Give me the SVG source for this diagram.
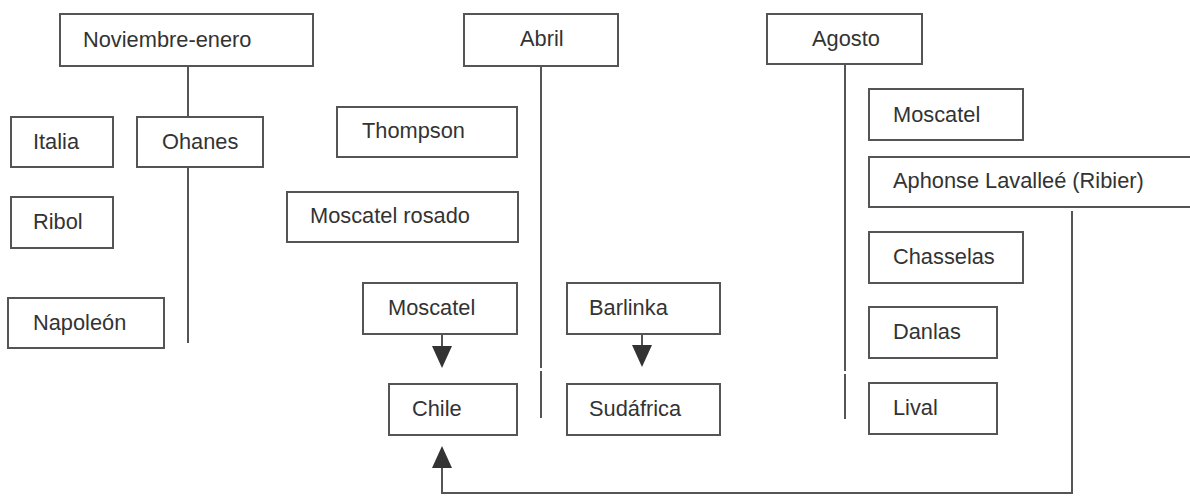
<svg xmlns="http://www.w3.org/2000/svg" width="1190" height="497" viewBox="0 0 1190 497">
<style>
.box{fill:#fff;stroke:#555;stroke-width:2}
.lbl{font-family:"Liberation Sans",Arial,sans-serif;font-size:21.8px;fill:#333}
.ln{fill:none;stroke:#555;stroke-width:2}
</style>
<defs>
<marker id="arr" viewBox="0 0 22 20" refX="0" refY="10" markerWidth="22" markerHeight="20" markerUnits="userSpaceOnUse" orient="auto">
<path d="M0,0 L22,10 L0,20 Z" fill="#333"/>
</marker>
</defs>
<rect width="1190" height="497" fill="#fff"/>
<g id="connectors">
<line class="ln" x1="188" y1="66" x2="188" y2="117"/>
<line class="ln" x1="188" y1="167" x2="188" y2="343"/>
<line class="ln" x1="541" y1="66" x2="541" y2="368"/>
<line class="ln" x1="541" y1="371" x2="541" y2="418"/>
<line class="ln" x1="845" y1="64" x2="845" y2="371"/>
<line class="ln" x1="845" y1="374" x2="845" y2="419"/>
<line class="ln" x1="442" y1="334" x2="442" y2="346" marker-end="url(#arr)"/>
<line class="ln" x1="642" y1="334" x2="642" y2="345" marker-end="url(#arr)"/>
<path class="ln" d="M1072,211 V493 H442 V468" marker-end="url(#arr)"/>
</g>
<g id="n-noviembre"><rect class="box" x="60" y="14" width="253" height="52"/><text class="lbl" x="83" y="47">Noviembre-enero</text></g>
<g id="n-italia"><rect class="box" x="11" y="117" width="102" height="50"/><text class="lbl" x="33" y="149">Italia</text></g>
<g id="n-ohanes"><rect class="box" x="137" y="117" width="126" height="50"/><text class="lbl" x="162" y="149">Ohanes</text></g>
<g id="n-ribol"><rect class="box" x="11" y="197" width="102" height="51"/><text class="lbl" x="33" y="229">Ribol</text></g>
<g id="n-napoleon"><rect class="box" x="8" y="298" width="156" height="50"/><text class="lbl" x="33" y="330">Napoleón</text></g>
<g id="n-abril"><rect class="box" x="464" y="14" width="154" height="52"/><text class="lbl" x="520" y="46">Abril</text></g>
<g id="n-thompson"><rect class="box" x="337" y="107" width="180" height="50"/><text class="lbl" x="362" y="138">Thompson</text></g>
<g id="n-moscatel-rosado"><rect class="box" x="287" y="192" width="231" height="50"/><text class="lbl" x="310" y="223">Moscatel rosado</text></g>
<g id="n-moscatel-mid"><rect class="box" x="363" y="283" width="154" height="51"/><text class="lbl" x="388" y="315">Moscatel</text></g>
<g id="n-chile"><rect class="box" x="389" y="384" width="128" height="51"/><text class="lbl" x="412" y="416">Chile</text></g>
<g id="n-barlinka"><rect class="box" x="567" y="283" width="153" height="51"/><text class="lbl" x="589" y="315">Barlinka</text></g>
<g id="n-sudafrica"><rect class="box" x="567" y="384" width="153" height="51"/><text class="lbl" x="589" y="416">Sudáfrica</text></g>
<g id="n-agosto"><rect class="box" x="767" y="14" width="155" height="50"/><text class="lbl" x="812" y="46">Agosto</text></g>
<g id="n-moscatel-right"><rect class="box" x="869" y="89" width="154" height="51"/><text class="lbl" x="893" y="122">Moscatel</text></g>
<g id="n-aphonse"><rect class="box" x="869" y="157" width="330" height="50"/><text class="lbl" x="893" y="188">Aphonse Lavalleé (Ribier)</text></g>
<g id="n-chasselas"><rect class="box" x="869" y="232" width="154" height="51"/><text class="lbl" x="893" y="264">Chasselas</text></g>
<g id="n-danlas"><rect class="box" x="869" y="307" width="128" height="51"/><text class="lbl" x="893" y="339">Danlas</text></g>
<g id="n-lival"><rect class="box" x="869" y="383" width="128" height="51"/><text class="lbl" x="893" y="415">Lival</text></g>
</svg>
